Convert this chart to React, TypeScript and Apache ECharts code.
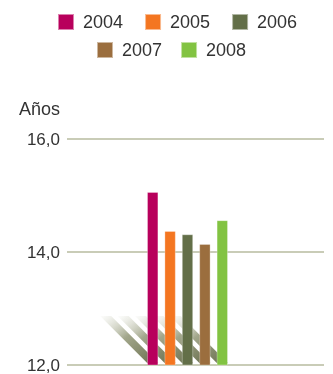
import React, { useEffect, useRef } from "react";
import * as echarts from "echarts";

const years = ["2004", "2005", "2006", "2007", "2008"];
const values = [15.06, 14.37, 14.31, 14.14, 14.56];
const colors = ["#b8005c", "#f47621", "#636f48", "#9b6e3e", "#82c342"];
const yTicks = { min: 12, max: 16, interval: 2 };
const axisName = "Años";

export default function App() {
  const ref = useRef<HTMLDivElement>(null);
  useEffect(() => {
    if (!ref.current) return;
    const chart = echarts.init(ref.current, null, { renderer: "svg" });
    const font = "'Liberation Sans', Arial, Helvetica, sans-serif";
    const barSeries = years.map((y, i) => ({
      type: "bar",
      name: y,
      xAxisIndex: 1,
      yAxisIndex: 1,
      data: years.map((_, j) => (j === i ? values[i] : null)),
      barWidth: 11,
      barGap: "-100%",
      z: 3,
      itemStyle: { color: colors[i], borderColor: "rgba(255,255,255,0.5)", borderWidth: 0.6 },
    }));
    const shadowSeries = {
      type: "custom",
      xAxisIndex: 1,
      yAxisIndex: 1,
      z: 1,
      silent: true,
      data: years.map((_, i) => [i, yTicks.min]),
      renderItem: (params: any, api: any) => {
        const base = api.coord([api.value(0), api.value(1)]);
        const w = 11;
        const h = 47;
        const x = base[0] - w / 2;
        const y = base[1] - 2;
        return {
          type: "polygon",
          shape: {
            points: [
              [x, y],
              [x + w, y],
              [x + w - h, y - h],
              [x - h, y - h],
            ],
          },
          style: {
            fill: new echarts.graphic.LinearGradient(1, 1, 0, 0, [
              { offset: 0, color: "rgba(104,110,76,1)" },
              { offset: 0.55, color: "rgba(145,150,118,0.85)" },
              { offset: 1, color: "rgba(205,208,190,0.05)" },
            ]),
          },
        };
      },
    };
    const legendBase = {
      itemWidth: 16,
      itemHeight: 16,
      icon: "rect",
      padding: 0,
      textStyle: { fontSize: 18, color: "#333", fontFamily: font, padding: [0, 0, 0, 4] },
    };
    chart.setOption({
      animation: false,
      textStyle: { fontFamily: font },
      legend: [
        { ...legendBase, data: years.slice(0, 3), left: 57, top: 13, itemGap: 21 },
        { ...legendBase, data: years.slice(3), left: 96, top: 41, itemGap: 18 },
      ],
      grid: [
        { left: 67, right: 9, top: 139, bottom: 9 },
        { left: 144, right: 102, top: 139, bottom: 9 },
      ],
      xAxis: [
        { type: "category", gridIndex: 0, data: [""], show: false },
        { type: "category", gridIndex: 1, data: years, show: false },
      ],
      yAxis: [
        {
          type: "value",
          gridIndex: 0,
          min: yTicks.min,
          max: yTicks.max,
          interval: yTicks.interval,
          name: axisName,
          nameLocation: "end",
          nameGap: 21,
          nameTextStyle: { align: "right", padding: [0, 7, 0, 0], fontSize: 18, color: "#333", fontFamily: font },
          axisLine: { show: false },
          axisTick: { show: false },
          axisLabel: {
            margin: 7,
            fontSize: 17,
            color: "#333",
            fontFamily: font,
            formatter: (v: number) => v.toFixed(1).replace(".", ","),
          },
          splitLine: { lineStyle: { color: "#c9ccb7", width: 2 } },
        },
        {
          type: "value",
          gridIndex: 1,
          min: yTicks.min,
          max: yTicks.max,
          interval: yTicks.interval,
          show: false,
          splitLine: { show: false },
        },
      ],
      series: [shadowSeries, ...barSeries],
    });
    return () => chart.dispose();
  }, []);
  return <div ref={ref} style={{ position: "fixed", left: 0, top: 0, width: 333, height: 374 }} />;
}
